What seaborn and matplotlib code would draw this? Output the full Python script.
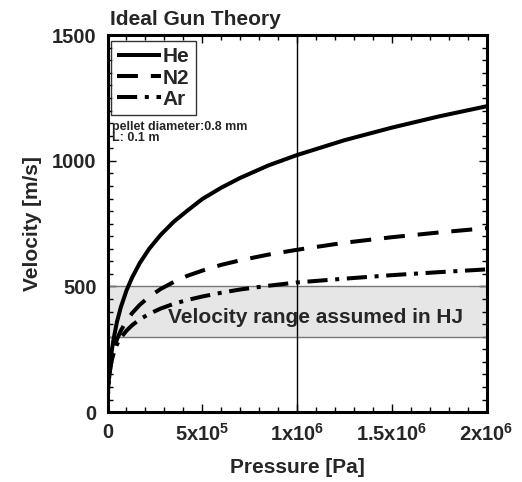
import numpy as np
import pandas as pd
import matplotlib as mpl
mpl.use('Agg')
import matplotlib.pyplot as plt
import seaborn as sns

# values
he_p = [0, 2e3, 5e3, 1e4, 2e4, 3e4, 5e4, 7e4, 1e5, 1.3e5, 1.7e5, 2.2e5, 2.8e5, 3.5e5,
        4.2e5, 5e5, 6e5, 7e5, 8.5e5, 1e6, 1.25e6, 1.5e6, 1.75e6, 2e6]
he_v = [0, 72, 114, 161, 232, 283, 360, 417, 484, 536, 593, 650, 705, 758,
        801, 848, 893, 932, 982, 1023, 1082, 1132, 1177, 1217]

n2_p = [0, 2e3, 5e3, 1e4, 2e4, 3e4, 5e4, 7e4, 1e5, 1.3e5, 1.7e5, 2.2e5, 2.8e5, 3.5e5,
        4.2e5, 5e5, 6e5, 7e5, 8.5e5, 1e6, 1.25e6, 1.5e6, 1.75e6, 2e6]
n2_v = [0, 65, 105, 150, 210, 245, 290, 324, 363, 394, 427, 459, 490, 518,
        542, 563, 586, 604, 627, 646, 674, 696, 715, 732]

ar_p = [0, 2e3, 5e3, 1e4, 2e4, 3e4, 5e4, 7e4, 1e5, 1.3e5, 1.7e5, 2.2e5, 2.8e5, 3.5e5,
        4.2e5, 5e5, 6e5, 7e5, 8.5e5, 1e6, 1.25e6, 1.5e6, 1.75e6, 2e6]
ar_v = [0, 65, 105, 150, 200, 228, 270, 296, 324, 346, 369, 391, 412, 431,
        446, 460, 475, 488, 503, 516, 531, 545, 557, 568]

band_low, band_high = 300, 500
p_mark = 1e6

x_ticks = [0, 5e5, 1e6, 1.5e6, 2e6]
x_labels = ['0', '5x10$^{5}$', '1x10$^{6}$', '1.5x10$^{6}$', '2x10$^{6}$']
y_ticks = [0, 500, 1000, 1500]

sns.set_theme(style='ticks')
plt.rcParams['font.family'] = ['Liberation Sans', 'DejaVu Sans']
plt.rcParams['font.weight'] = 'bold'
plt.rcParams['mathtext.fontset'] = 'custom'
plt.rcParams['mathtext.rm'] = 'Liberation Sans:bold'
plt.rcParams['mathtext.bf'] = 'Liberation Sans:bold'
plt.rcParams['mathtext.default'] = 'bf'

fig = plt.figure(figsize=(5.22, 4.82), dpi=100)
ax = fig.add_axes([0.206, 0.145, 0.726, 0.782])

# band and marker line
ax.axhspan(band_low, band_high, facecolor='#e6e6e6', edgecolor='none', zorder=0)
ax.axhline(band_low, color='#777777', lw=1.0, zorder=1)
ax.axhline(band_high, color='#777777', lw=1.0, zorder=1)
ax.axvline(p_mark, color='black', lw=1.0, zorder=1)

sns.lineplot(x=he_p, y=he_v, color='black', lw=2.9, label='He', ax=ax, sort=False)
sns.lineplot(x=n2_p, y=n2_v, color='black', lw=2.9, label='N2', ax=ax, sort=False)
sns.lineplot(x=ar_p, y=ar_v, color='black', lw=2.9, label='Ar', ax=ax, sort=False)
lines = ax.get_lines()[-3:]
lines[1].set_dashes([5.2, 3.2])
lines[2].set_dashes([5.0, 1.9, 1.0, 1.9])
for ln in lines:
    ln.set_dash_capstyle('butt')
    ln.set_solid_capstyle('butt')
    ln.set_solid_joinstyle('round')

ax.text(1.1e6, 378, 'Velocity range assumed in HJ', ha='center', va='center',
        fontsize=15, fontweight='bold', zorder=3)
ax.text(0.012, 0.773, 'pellet diameter:0.8 mm\nL: 0.1 m', transform=ax.transAxes,
        ha='left', va='top', fontsize=9, fontweight='bold', linespacing=0.95)

ax.set_xlim(0, 2e6)
ax.set_ylim(0, 1500)
ax.set_xticks(x_ticks)
ax.set_xticklabels(x_labels)
ax.set_yticks(y_ticks)
ax.xaxis.set_minor_locator(mpl.ticker.MultipleLocator(1e5))
ax.yaxis.set_minor_locator(mpl.ticker.MultipleLocator(50))
ax.tick_params(which='both', direction='in', top=True, right=True, width=1.0, color='black')
ax.tick_params(which='major', length=6, labelsize=14.5, pad=8)
ax.tick_params(which='minor', length=3.5)
for sp in ax.spines.values():
    sp.set_linewidth(2.2)
    sp.set_color('black')

ax.set_xlabel('Pressure [Pa]', fontsize=15, fontweight='bold', labelpad=9)
ax.set_ylabel('Velocity [m/s]', fontsize=15, fontweight='bold', labelpad=7)
ax.set_title('Ideal Gun Theory', fontsize=15, fontweight='bold', loc='left', pad=7, x=0.006)

leg = ax.legend(loc='upper left', bbox_to_anchor=(0.008, 0.984), fontsize=15,
                handlelength=2.1, handletextpad=0.1, borderpad=0.3, labelspacing=0.1,
                borderaxespad=0.0, frameon=True, fancybox=False, edgecolor='black')
leg.get_frame().set_linewidth(1.0)
for t in leg.get_texts():
    t.set_fontweight('bold')

fig.savefig('out.png', dpi=100)
